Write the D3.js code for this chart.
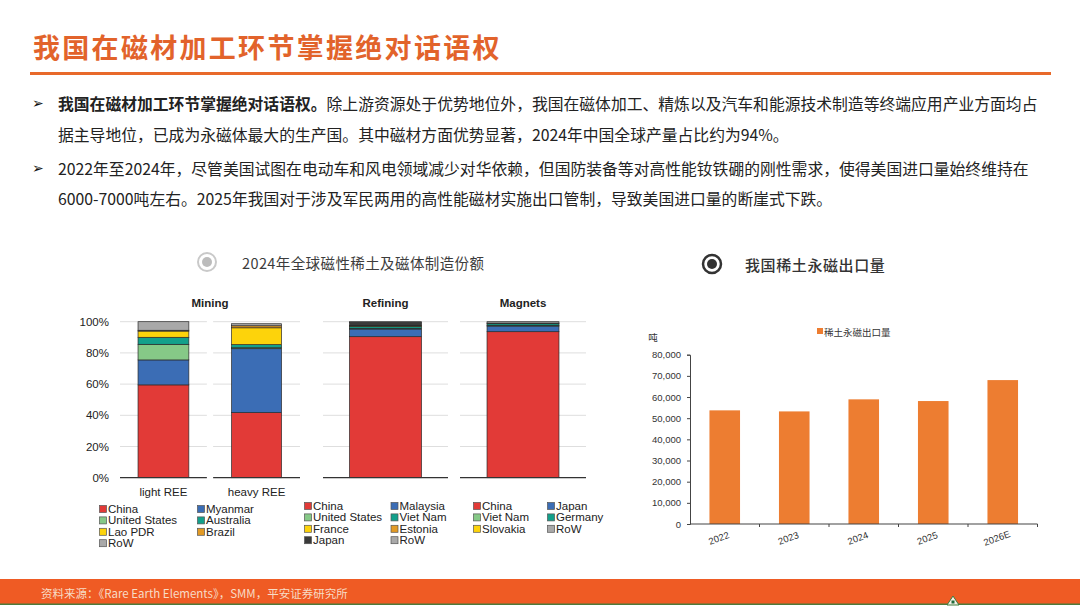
<!DOCTYPE html>
<html>
<head>
<meta charset="utf-8">
<script src="https://cdn.jsdelivr.net/npm/d3@7/dist/d3.min.js"></script>
<style>
  body { margin: 0; background: #fff; }
  svg { display: block; font-family: "Noto Sans CJK SC", "Liberation Sans", sans-serif; }
  .lat { font-family: "Liberation Sans", Arial, sans-serif; }
</style>
</head>
<body>
<div id="chart"></div>
<script>
// ---- data ----
const miningCats = ["light REE", "heavy REE"];
const miningSeries = ["China", "Myanmar", "United States", "Australia", "Lao PDR", "Brazil", "RoW"];
const miningLight = [59.5, 16, 10, 4.5, 4, 0.5, 5.5];
const miningHeavy = [41.7, 41, 0.6, 2, 10.8, 1.3, 1.3];
const refiningSeries = ["China", "Malaysia", "United States", "Viet Nam", "France", "Estonia", "Japan", "RoW"];
const refiningValues = [90.4, 4.9, 0.5, 1.2, 0.3, 0.3, 2.0, 0.4];
const magnetSeries = ["China", "Japan", "Viet Nam", "Germany", "Slovakia", "RoW"];
const magnetValues = [93.6, 3.6, 0.5, 1.0, 0.4, 0.9];
const pctTicks = [0, 20, 40, 60, 80, 100];

const exportYears = ["2022", "2023", "2024", "2025", "2026E"];
const exportValues = [53700, 53200, 58900, 58100, 68000];
const exportTicks = [0, 10000, 20000, 30000, 40000, 50000, 60000, 70000, 80000];

const palette = ["#e23a37", "#3b6db5", "#86c987", "#13a08b", "#fdd30b", "#e29a25", "#3a3a3a"];
const rowGray = "#a9a9a9";
function colorFor(series, i) { return series[i] === "RoW" ? rowGray : palette[i]; }

const svg = d3.select("#chart").append("svg")
  .attr("width", 1080).attr("height", 608);

// ---- header ----
svg.append("text")
  .attr("x", 33).attr("y", 46)
  .attr("dominant-baseline", "central")
  .attr("font-size", 27).attr("font-weight", 700)
  .attr("letter-spacing", 2.3)
  .attr("fill", "#e2632b")
  .text("我国在磁材加工环节掌握绝对话语权");

svg.append("rect").attr("x", 30).attr("y", 72).attr("width", 1021).attr("height", 3).attr("fill", "#e8692a");

const bullets = [
  { y: 103, arrow: true, parts: [["我国在磁材加工环节掌握绝对话语权。", 700], ["除上游资源处于优势地位外，我国在磁体加工、精炼以及汽车和能源技术制造等终端应用产业方面均占", 400]] },
  { y: 134, arrow: false, parts: [["据主导地位，已成为永磁体最大的生产国。其中磁材方面优势显著，2024年中国全球产量占比约为94%。", 400]] },
  { y: 168, arrow: true, parts: [["2022年至2024年，尽管美国试图在电动车和风电领域减少对华依赖，但国防装备等对高性能钕铁硼的刚性需求，使得美国进口量始终维持在", 400]] },
  { y: 198, arrow: false, parts: [["6000-7000吨左右。2025年我国对于涉及军民两用的高性能磁材实施出口管制，导致美国进口量的断崖式下跌。", 400]] }
];
bullets.forEach(b => {
  if (b.arrow) {
    svg.append("text").attr("x", 32).attr("y", b.y).attr("dominant-baseline", "central")
      .attr("font-family", "DejaVu Sans").attr("font-size", 14).attr("fill", "#111").text("➢");
  }
  const t = svg.append("text").attr("x", 58).attr("y", b.y).attr("dominant-baseline", "central")
    .attr("font-size", 15.8).attr("fill", "#222");
  b.parts.forEach(p => t.append("tspan").attr("font-weight", p[1]).text(p[0]));
});

// ---- section headers ----
svg.append("circle").attr("cx", 207).attr("cy", 262).attr("r", 9).attr("fill", "#fff").attr("stroke", "#c9c9c9").attr("stroke-width", 2);
svg.append("circle").attr("cx", 207).attr("cy", 262).attr("r", 5).attr("fill", "#bcbcbc");
svg.append("text").attr("x", 242).attr("y", 262).attr("dominant-baseline", "central")
  .attr("font-size", 14.5).attr("fill", "#3c3c3c").attr("letter-spacing", 0.4)
  .text("2024年全球磁性稀土及磁体制造份额");

svg.append("circle").attr("cx", 712).attr("cy", 264).attr("r", 9).attr("fill", "#fff").attr("stroke", "#333").attr("stroke-width", 2.5);
svg.append("circle").attr("cx", 712).attr("cy", 264).attr("r", 5).attr("fill", "#333");
svg.append("text").attr("x", 745).attr("y", 264).attr("dominant-baseline", "central")
  .attr("font-size", 15).attr("font-weight", 500).attr("fill", "#333").attr("letter-spacing", 0.6)
  .text("我国稀土永磁出口量");

// ---- stacked share panels ----
const yPct = d3.scaleLinear().domain([0, 100]).range([477.7, 321.7]);

function stackOf(values) {
  let acc = 0;
  return values.map((v, i) => { const s = { i, y0: acc, y1: acc + v }; acc += v; return s; });
}

function panel(x0, x1, cat, series, values, barFrac) {
  const g = svg.append("g");
  g.selectAll("line.grid").data(pctTicks.filter(d => d > 0)).join("line")
    .attr("x1", x0).attr("x2", x1)
    .attr("y1", d => yPct(d)).attr("y2", d => yPct(d))
    .attr("stroke", "#dedede").attr("stroke-width", 1);
  const xb = d3.scaleBand().domain([cat]).range([x0, x1]).paddingInner(0).paddingOuter((1 - barFrac) / 2 / barFrac);
  g.selectAll("rect").data(stackOf(values)).join("rect")
    .attr("x", xb(cat)).attr("width", xb.bandwidth())
    .attr("y", d => yPct(d.y1)).attr("height", d => yPct(d.y0) - yPct(d.y1))
    .attr("fill", d => colorFor(series, d.i))
    .attr("stroke", "#2a2a2a").attr("stroke-width", 0.7);
  g.append("line").attr("x1", x0).attr("x2", x1).attr("y1", yPct(0)).attr("y2", yPct(0))
    .attr("stroke", "#333").attr("stroke-width", 1.2);
  return x0 + (x1 - x0) / 2;
}

const miningX = d3.scaleBand().domain(miningCats).range([120, 300]).paddingInner(0.067);
const cLight = panel(miningX("light REE"), miningX("light REE") + miningX.bandwidth(), "light REE", miningSeries, miningLight, 0.585);
const cHeavy = panel(miningX("heavy REE"), miningX("heavy REE") + miningX.bandwidth(), "heavy REE", miningSeries, miningHeavy, 0.575);
const cRef = panel(323, 448, "Refining", refiningSeries, refiningValues, 0.576);
const cMag = panel(460, 586, "Magnets", magnetSeries, magnetValues, 0.571);

svg.append("g").attr("class", "lat").selectAll("text").data(pctTicks).join("text")
  .attr("x", 109).attr("y", d => yPct(d)).attr("text-anchor", "end").attr("dominant-baseline", "central")
  .attr("font-size", 11.5).attr("fill", "#222").text(d => d + "%");

[["Mining", 210], ["Refining", cRef], ["Magnets", cMag]].forEach(t => {
  svg.append("text").attr("class", "lat").attr("x", t[1]).attr("y", 303)
    .attr("text-anchor", "middle").attr("dominant-baseline", "central")
    .attr("font-size", 11.5).attr("font-weight", 700).attr("fill", "#222").text(t[0]);
});
[["light REE", cLight], ["heavy REE", cHeavy]].forEach(t => {
  svg.append("text").attr("class", "lat").attr("x", t[1]).attr("y", 492)
    .attr("text-anchor", "middle").attr("dominant-baseline", "central")
    .attr("font-size", 11.5).attr("fill", "#222").text(t[0]);
});

function legend(series, cols, y0) {
  const g = svg.append("g").attr("class", "lat");
  series.forEach((s, i) => {
    const col = i % 2, row = Math.floor(i / 2);
    const x = cols[col], y = y0 + row * 11.4;
    g.append("rect").attr("x", x - 3.5).attr("y", y - 3.5).attr("width", 7).attr("height", 7)
      .attr("fill", colorFor(series, i)).attr("stroke", "#555").attr("stroke-width", 0.7);
    g.append("text").attr("x", x + 5).attr("y", y).attr("dominant-baseline", "central")
      .attr("font-size", 11.5).attr("fill", "#222").text(s);
  });
}
legend(miningSeries, [103, 201], 509);
legend(refiningSeries, [308, 394.5], 506);
legend(magnetSeries, [477, 551], 506);

// ---- export volume bar chart ----
const xE = d3.scaleBand().domain(exportYears).range([690, 1037.5]).paddingInner(0.56).paddingOuter(0.28);
const yE = d3.scaleLinear().domain([0, 80000]).range([524, 354.7]);

const gE = svg.append("g").attr("class", "lat");
gE.selectAll("rect").data(exportValues).join("rect")
  .attr("x", (d, i) => xE(exportYears[i])).attr("width", xE.bandwidth())
  .attr("y", d => yE(d)).attr("height", d => yE(0) - yE(d))
  .attr("fill", "#ed7d31");

const yAxis = gE.append("g").attr("transform", "translate(690,0)")
  .call(d3.axisLeft(yE).tickValues(exportTicks).tickSize(3).tickFormat(d3.format(",")));
yAxis.selectAll("text").attr("font-size", 9.5).attr("fill", "#333").attr("x", -9);
yAxis.selectAll("line, path").attr("stroke", "#444");

const xAxis = gE.append("g").attr("transform", "translate(0,524)");
xAxis.append("line").attr("x1", 690).attr("x2", 1037.5).attr("y1", 0).attr("y2", 0).attr("stroke", "#444").attr("stroke-width", 1.2);
const bounds = exportYears.map(y => xE(y) - xE.step() * xE.paddingInner() / 2).concat([1037.5]);
xAxis.selectAll("line.tk").data(bounds.slice(1)).join("line")
  .attr("x1", d => d).attr("x2", d => d).attr("y1", 0).attr("y2", 3).attr("stroke", "#444");
xAxis.selectAll("text").data(exportYears).join("text")
  .attr("transform", d => `translate(${xE(d) + xE.bandwidth() / 2 - 6},14) rotate(-20)`)
  .attr("text-anchor", "middle").attr("dominant-baseline", "central")
  .attr("font-size", 9.5).attr("fill", "#333").text(d => d);

svg.append("text").attr("x", 653).attr("y", 337).attr("text-anchor", "middle").attr("dominant-baseline", "central")
  .attr("font-size", 9.5).attr("fill", "#333").text("吨");
svg.append("rect").attr("x", 817).attr("y", 328).attr("width", 6).attr("height", 6).attr("fill", "#ed7d31");
svg.append("text").attr("x", 824).attr("y", 332).attr("dominant-baseline", "central")
  .attr("font-size", 9.5).attr("fill", "#333").text("稀土永磁出口量");

// ---- footer ----
svg.append("rect").attr("x", 0).attr("y", 579).attr("width", 1080).attr("height", 25).attr("fill", "#ef5b24");
svg.append("rect").attr("x", 0).attr("y", 603.5).attr("width", 1080).attr("height", 1.5).attr("fill", "#4e7a3a");
svg.append("text").attr("x", 41).attr("y", 592.5).attr("dominant-baseline", "central")
  .attr("font-size", 11.5).attr("fill", "#f7dcc6")
  .text("资料来源：《Rare Earth Elements》，SMM，平安证券研究所");
svg.append("path").attr("d", "M947,605 L953,596 L959,605 Z").attr("fill", "#f4efe6").attr("stroke", "#3d7a3a").attr("stroke-width", 1);
svg.append("rect").attr("x", 951.5).attr("y", 600.5).attr("width", 3).attr("height", 3).attr("fill", "#1f6a3a");
</script>
</body>
</html>
